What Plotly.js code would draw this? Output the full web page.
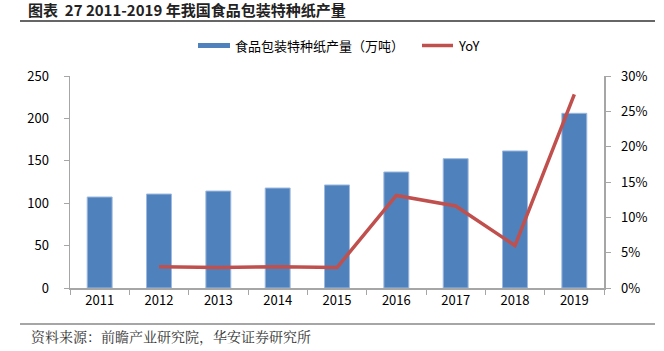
<!DOCTYPE html>
<html><head><meta charset="utf-8">
<script src="https://cdn.plot.ly/plotly-3.0.1.min.js"></script>
<style>html,body{margin:0;padding:0;background:#fff}#c{width:664px;height:351px}</style>
</head><body><div id="c"></div>
<script>
const years = ['2011','2012','2013','2014','2015','2016','2017','2018','2019'];
const output = [107.3, 110.8, 114.3, 117.9, 121.5, 136.8, 152.5, 161.6, 206.0];
const yoyYears = ['2012','2013','2014','2015','2016','2017','2018','2019'];
const yoy = [0.030, 0.029, 0.030, 0.029, 0.131, 0.116, 0.060, 0.274];
const barName = '食品包装特种纸产量（万吨）';
const lineName = 'YoY';
const titleText = '图表  27 2011-2019 年我国食品包装特种纸产量';
const sourceText = '资料来源：前瞻产业研究院，华安证券研究所';

const L=70, R=604, T=76, B=288, W=664, H=351;
const px = x => (x-L)/(R-L);
const py = y => (B-y)/(B-T);
const font = '"Microsoft YaHei","Noto Sans CJK SC","Open Sans",sans-serif';

const traces = [
  {type:'bar', x:years, y:output, name:barName, width:0.42,
   marker:{color:'#4F81BD', line:{color:'#9DB9DE', width:1}}, yaxis:'y'},
  {type:'scatter', mode:'lines', x:yoyYears, y:yoy, name:lineName,
   line:{color:'#C0504D', width:3.5}, yaxis:'y2'}
];
const layout = {
  width:W, height:H, showlegend:false,
  margin:{l:L, r:W-R, t:T, b:H-B, pad:0},
  paper_bgcolor:'#fff', plot_bgcolor:'#fff',
  font:{family:font, size:13, color:'#000'},
  title:{text:'<b>'+titleText+'</b>', x:28/W, xanchor:'left', y:1-11/H, yanchor:'middle', yref:'container',
         font:{family:'"Noto Sans CJK SC",sans-serif', size:15, color:'#222'}},
  xaxis:{type:'category', showline:true, linecolor:'#A6A6A6', linewidth:1.5,
         ticks:'outside', tickson:'boundaries', ticklen:5, tickcolor:'#A6A6A6',
         showgrid:false, zeroline:false, tickfont:{size:13}},
  yaxis:{range:[0,250], dtick:50, showline:true, linecolor:'#A6A6A6', linewidth:1.5,
         ticks:'outside', ticklen:5, tickcolor:'#A6A6A6', showgrid:false, zeroline:false,
         ticklabelstandoff:12, tickfont:{size:13}},
  yaxis2:{range:[0,0.30], dtick:0.05, tickformat:'.0%', overlaying:'y', side:'right',
          showline:true, linecolor:'#A6A6A6', linewidth:1.5, ticks:'outside', ticklen:5,
          tickcolor:'#A6A6A6', showgrid:false, zeroline:false, ticklabelstandoff:8, tickfont:{size:13}},
  shapes:[
    {type:'line', xref:'paper', yref:'paper', x0:px(20), x1:px(655), y0:py(21), y1:py(21), line:{color:'#333', width:1.5}},
    {type:'line', xref:'paper', yref:'paper', x0:px(20), x1:px(655), y0:py(324), y1:py(324), line:{color:'#888', width:1.5}},
    {type:'rect', xref:'paper', yref:'paper', x0:px(198), x1:px(230), y0:py(48), y1:py(43), fillcolor:'#4F81BD', line:{width:0}},
    {type:'line', xref:'paper', yref:'paper', x0:px(422), x1:px(453), y0:py(45.5), y1:py(45.5), line:{color:'#C0504D', width:3.5}}
  ],
  annotations:[
    {xref:'paper', yref:'paper', x:px(233), y:py(45.5), xanchor:'left', yanchor:'middle', text:barName, showarrow:false, font:{size:13}},
    {xref:'paper', yref:'paper', x:px(456), y:py(45.5), xanchor:'left', yanchor:'middle', text:lineName, showarrow:false, font:{size:13}},
    {xref:'paper', yref:'paper', x:px(29), y:py(336), xanchor:'left', yanchor:'middle', text:sourceText, showarrow:false,
     font:{family:'"Noto Serif CJK SC","Noto Sans CJK SC",serif', size:14, color:'#333'}}
  ]
};
Plotly.newPlot('c', traces, layout, {staticPlot:true, displayModeBar:false});
</script>
</body></html>
